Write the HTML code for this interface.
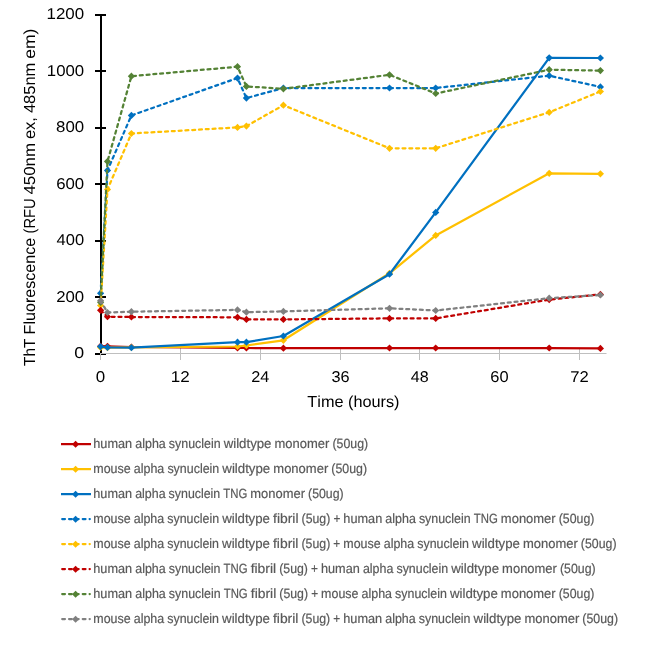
<!DOCTYPE html>
<html><head><meta charset="utf-8"><style>
html,body{margin:0;padding:0;background:#fff;width:650px;height:657px;overflow:hidden}
svg{display:block;will-change:transform}
text{font-family:"Liberation Sans",sans-serif;font-kerning:none;text-rendering:geometricPrecision}
</style></head><body>
<svg width="650" height="657" viewBox="0 0 650 657">
<rect width="650" height="657" fill="#fff"/>
<rect x="95" y="353" width="11" height="2" fill="#000"/>
<text transform="translate(74.31 358.00) scale(1.1398 1)" font-size="15.6" fill="#000">0</text>
<rect x="95" y="296" width="11" height="2" fill="#000"/>
<text transform="translate(56.16 302.00) scale(1.0757 1)" font-size="15.6" fill="#000">200</text>
<rect x="95" y="240" width="11" height="2" fill="#000"/>
<text transform="translate(56.62 245.00) scale(1.0574 1)" font-size="15.6" fill="#000">400</text>
<rect x="95" y="183" width="11" height="2" fill="#000"/>
<text transform="translate(56.15 189.00) scale(1.0761 1)" font-size="15.6" fill="#000">600</text>
<rect x="95" y="127" width="11" height="2" fill="#000"/>
<text transform="translate(56.07 132.00) scale(1.0792 1)" font-size="15.6" fill="#000">800</text>
<rect x="95" y="70" width="11" height="2" fill="#000"/>
<text transform="translate(46.82 76.00) scale(1.0758 1)" font-size="15.6" fill="#000">1000</text>
<rect x="95" y="14" width="11" height="2" fill="#000"/>
<text transform="translate(46.51 19.00) scale(1.0849 1)" font-size="15.6" fill="#000">1200</text>
<rect x="101" y="353" width="505.5" height="1" fill="#BFBFBF"/>
<rect x="100" y="348" width="1" height="12" fill="#BFBFBF"/>
<text transform="translate(95.79 381.60) scale(1.0862 1)" font-size="15.6" fill="#000">0</text>
<rect x="180" y="348" width="1" height="12" fill="#BFBFBF"/>
<text transform="translate(170.80 381.60) scale(1.0924 1)" font-size="15.6" fill="#000">12</text>
<rect x="260" y="348" width="1" height="12" fill="#BFBFBF"/>
<text transform="translate(251.28 381.60) scale(1.0428 1)" font-size="15.6" fill="#000">24</text>
<rect x="340" y="348" width="1" height="12" fill="#BFBFBF"/>
<text transform="translate(331.48 381.60) scale(1.0453 1)" font-size="15.6" fill="#000">36</text>
<rect x="419" y="348" width="1" height="12" fill="#BFBFBF"/>
<text transform="translate(410.73 381.60) scale(1.0297 1)" font-size="15.6" fill="#000">48</text>
<rect x="499" y="348" width="1" height="12" fill="#BFBFBF"/>
<text transform="translate(490.27 381.60) scale(1.0533 1)" font-size="15.6" fill="#000">60</text>
<rect x="579" y="348" width="1" height="12" fill="#BFBFBF"/>
<text transform="translate(570.25 381.60) scale(1.0655 1)" font-size="15.6" fill="#000">72</text>
<rect x="100" y="14" width="2" height="339" fill="#000"/>
<polyline points="100.60,346.20 107.50,346.30 131.40,347.00 237.50,347.90 246.40,348.00 283.40,348.20 389.50,348.00 435.70,348.00 549.20,348.00 600.40,348.40" fill="none" stroke="#C00000" stroke-width="2.25" stroke-linejoin="round"/>
<path d="M97.00 346.20L100.60 342.60L104.20 346.20L100.60 349.80Z" fill="#C00000"/>
<path d="M103.90 346.30L107.50 342.70L111.10 346.30L107.50 349.90Z" fill="#C00000"/>
<path d="M127.80 347.00L131.40 343.40L135.00 347.00L131.40 350.60Z" fill="#C00000"/>
<path d="M233.90 347.90L237.50 344.30L241.10 347.90L237.50 351.50Z" fill="#C00000"/>
<path d="M242.80 348.00L246.40 344.40L250.00 348.00L246.40 351.60Z" fill="#C00000"/>
<path d="M279.80 348.20L283.40 344.60L287.00 348.20L283.40 351.80Z" fill="#C00000"/>
<path d="M385.90 348.00L389.50 344.40L393.10 348.00L389.50 351.60Z" fill="#C00000"/>
<path d="M432.10 348.00L435.70 344.40L439.30 348.00L435.70 351.60Z" fill="#C00000"/>
<path d="M545.60 348.00L549.20 344.40L552.80 348.00L549.20 351.60Z" fill="#C00000"/>
<path d="M596.80 348.40L600.40 344.80L604.00 348.40L600.40 352.00Z" fill="#C00000"/>
<polyline points="100.60,347.40 107.50,347.70 131.40,347.40 237.50,346.50 246.40,345.50 283.40,340.30 389.50,273.30 435.70,235.40 549.20,173.30 600.40,173.80" fill="none" stroke="#FFC000" stroke-width="2.25" stroke-linejoin="round"/>
<path d="M97.00 347.40L100.60 343.80L104.20 347.40L100.60 351.00Z" fill="#FFC000"/>
<path d="M103.90 347.70L107.50 344.10L111.10 347.70L107.50 351.30Z" fill="#FFC000"/>
<path d="M127.80 347.40L131.40 343.80L135.00 347.40L131.40 351.00Z" fill="#FFC000"/>
<path d="M233.90 346.50L237.50 342.90L241.10 346.50L237.50 350.10Z" fill="#FFC000"/>
<path d="M242.80 345.50L246.40 341.90L250.00 345.50L246.40 349.10Z" fill="#FFC000"/>
<path d="M279.80 340.30L283.40 336.70L287.00 340.30L283.40 343.90Z" fill="#FFC000"/>
<path d="M385.90 273.30L389.50 269.70L393.10 273.30L389.50 276.90Z" fill="#FFC000"/>
<path d="M432.10 235.40L435.70 231.80L439.30 235.40L435.70 239.00Z" fill="#FFC000"/>
<path d="M545.60 173.30L549.20 169.70L552.80 173.30L549.20 176.90Z" fill="#FFC000"/>
<path d="M596.80 173.80L600.40 170.20L604.00 173.80L600.40 177.40Z" fill="#FFC000"/>
<polyline points="100.60,346.60 107.50,347.40 131.40,347.70 237.50,342.20 246.40,342.20 283.40,336.00 389.50,274.20 435.70,212.40 549.20,57.80 600.40,58.00" fill="none" stroke="#0070C0" stroke-width="2.25" stroke-linejoin="round"/>
<path d="M97.00 346.60L100.60 343.00L104.20 346.60L100.60 350.20Z" fill="#0070C0"/>
<path d="M103.90 347.40L107.50 343.80L111.10 347.40L107.50 351.00Z" fill="#0070C0"/>
<path d="M127.80 347.70L131.40 344.10L135.00 347.70L131.40 351.30Z" fill="#0070C0"/>
<path d="M233.90 342.20L237.50 338.60L241.10 342.20L237.50 345.80Z" fill="#0070C0"/>
<path d="M242.80 342.20L246.40 338.60L250.00 342.20L246.40 345.80Z" fill="#0070C0"/>
<path d="M279.80 336.00L283.40 332.40L287.00 336.00L283.40 339.60Z" fill="#0070C0"/>
<path d="M385.90 274.20L389.50 270.60L393.10 274.20L389.50 277.80Z" fill="#0070C0"/>
<path d="M432.10 212.40L435.70 208.80L439.30 212.40L435.70 216.00Z" fill="#0070C0"/>
<path d="M545.60 57.80L549.20 54.20L552.80 57.80L549.20 61.40Z" fill="#0070C0"/>
<path d="M596.80 58.00L600.40 54.40L604.00 58.00L600.40 61.60Z" fill="#0070C0"/>
<polyline points="100.60,293.30 107.50,170.40 131.40,115.40 237.50,78.10 246.40,98.10 283.40,88.00 389.50,88.00 435.70,88.00 549.20,75.70 600.40,86.90" fill="none" stroke="#0070C0" stroke-width="2.25" stroke-linejoin="round" stroke-dasharray="2.95 3.85" stroke-linecap="round"/>
<path d="M97.00 293.30L100.60 289.70L104.20 293.30L100.60 296.90Z" fill="#0070C0"/>
<path d="M103.90 170.40L107.50 166.80L111.10 170.40L107.50 174.00Z" fill="#0070C0"/>
<path d="M127.80 115.40L131.40 111.80L135.00 115.40L131.40 119.00Z" fill="#0070C0"/>
<path d="M233.90 78.10L237.50 74.50L241.10 78.10L237.50 81.70Z" fill="#0070C0"/>
<path d="M242.80 98.10L246.40 94.50L250.00 98.10L246.40 101.70Z" fill="#0070C0"/>
<path d="M279.80 88.00L283.40 84.40L287.00 88.00L283.40 91.60Z" fill="#0070C0"/>
<path d="M385.90 88.00L389.50 84.40L393.10 88.00L389.50 91.60Z" fill="#0070C0"/>
<path d="M432.10 88.00L435.70 84.40L439.30 88.00L435.70 91.60Z" fill="#0070C0"/>
<path d="M545.60 75.70L549.20 72.10L552.80 75.70L549.20 79.30Z" fill="#0070C0"/>
<path d="M596.80 86.90L600.40 83.30L604.00 86.90L600.40 90.50Z" fill="#0070C0"/>
<polyline points="100.60,305.50 107.50,189.50 131.40,133.50 237.50,127.40 246.40,126.10 283.40,105.20 389.50,148.30 435.70,148.30 549.20,112.30 600.40,91.50" fill="none" stroke="#FFC000" stroke-width="2.25" stroke-linejoin="round" stroke-dasharray="2.95 3.85" stroke-linecap="round"/>
<path d="M97.00 305.50L100.60 301.90L104.20 305.50L100.60 309.10Z" fill="#FFC000"/>
<path d="M103.90 189.50L107.50 185.90L111.10 189.50L107.50 193.10Z" fill="#FFC000"/>
<path d="M127.80 133.50L131.40 129.90L135.00 133.50L131.40 137.10Z" fill="#FFC000"/>
<path d="M233.90 127.40L237.50 123.80L241.10 127.40L237.50 131.00Z" fill="#FFC000"/>
<path d="M242.80 126.10L246.40 122.50L250.00 126.10L246.40 129.70Z" fill="#FFC000"/>
<path d="M279.80 105.20L283.40 101.60L287.00 105.20L283.40 108.80Z" fill="#FFC000"/>
<path d="M385.90 148.30L389.50 144.70L393.10 148.30L389.50 151.90Z" fill="#FFC000"/>
<path d="M432.10 148.30L435.70 144.70L439.30 148.30L435.70 151.90Z" fill="#FFC000"/>
<path d="M545.60 112.30L549.20 108.70L552.80 112.30L549.20 115.90Z" fill="#FFC000"/>
<path d="M596.80 91.50L600.40 87.90L604.00 91.50L600.40 95.10Z" fill="#FFC000"/>
<polyline points="100.60,310.30 107.50,316.70 131.40,317.00 237.50,317.30 246.40,319.40 283.40,319.40 389.50,318.40 435.70,318.40 549.20,299.60 600.40,294.40" fill="none" stroke="#C00000" stroke-width="2.25" stroke-linejoin="round" stroke-dasharray="2.95 3.85" stroke-linecap="round"/>
<path d="M97.00 310.30L100.60 306.70L104.20 310.30L100.60 313.90Z" fill="#C00000"/>
<path d="M103.90 316.70L107.50 313.10L111.10 316.70L107.50 320.30Z" fill="#C00000"/>
<path d="M127.80 317.00L131.40 313.40L135.00 317.00L131.40 320.60Z" fill="#C00000"/>
<path d="M233.90 317.30L237.50 313.70L241.10 317.30L237.50 320.90Z" fill="#C00000"/>
<path d="M242.80 319.40L246.40 315.80L250.00 319.40L246.40 323.00Z" fill="#C00000"/>
<path d="M279.80 319.40L283.40 315.80L287.00 319.40L283.40 323.00Z" fill="#C00000"/>
<path d="M385.90 318.40L389.50 314.80L393.10 318.40L389.50 322.00Z" fill="#C00000"/>
<path d="M432.10 318.40L435.70 314.80L439.30 318.40L435.70 322.00Z" fill="#C00000"/>
<path d="M545.60 299.60L549.20 296.00L552.80 299.60L549.20 303.20Z" fill="#C00000"/>
<path d="M596.80 294.40L600.40 290.80L604.00 294.40L600.40 298.00Z" fill="#C00000"/>
<polyline points="100.60,302.30 107.50,161.40 131.40,76.20 237.50,66.70 246.40,86.40 283.40,88.80 389.50,74.80 435.70,93.50 549.20,69.70 600.40,70.60" fill="none" stroke="#548235" stroke-width="2.25" stroke-linejoin="round" stroke-dasharray="2.95 3.85" stroke-linecap="round"/>
<path d="M97.00 302.30L100.60 298.70L104.20 302.30L100.60 305.90Z" fill="#548235"/>
<path d="M103.90 161.40L107.50 157.80L111.10 161.40L107.50 165.00Z" fill="#548235"/>
<path d="M127.80 76.20L131.40 72.60L135.00 76.20L131.40 79.80Z" fill="#548235"/>
<path d="M233.90 66.70L237.50 63.10L241.10 66.70L237.50 70.30Z" fill="#548235"/>
<path d="M242.80 86.40L246.40 82.80L250.00 86.40L246.40 90.00Z" fill="#548235"/>
<path d="M279.80 88.80L283.40 85.20L287.00 88.80L283.40 92.40Z" fill="#548235"/>
<path d="M385.90 74.80L389.50 71.20L393.10 74.80L389.50 78.40Z" fill="#548235"/>
<path d="M432.10 93.50L435.70 89.90L439.30 93.50L435.70 97.10Z" fill="#548235"/>
<path d="M545.60 69.70L549.20 66.10L552.80 69.70L549.20 73.30Z" fill="#548235"/>
<path d="M596.80 70.60L600.40 67.00L604.00 70.60L600.40 74.20Z" fill="#548235"/>
<polyline points="100.60,300.70 107.50,312.50 131.40,311.70 237.50,309.90 246.40,312.20 283.40,311.40 389.50,308.30 435.70,310.50 549.20,298.20 600.40,295.00" fill="none" stroke="#808080" stroke-width="2.25" stroke-linejoin="round" stroke-dasharray="2.95 3.85" stroke-linecap="round"/>
<path d="M97.00 300.70L100.60 297.10L104.20 300.70L100.60 304.30Z" fill="#808080"/>
<path d="M103.90 312.50L107.50 308.90L111.10 312.50L107.50 316.10Z" fill="#808080"/>
<path d="M127.80 311.70L131.40 308.10L135.00 311.70L131.40 315.30Z" fill="#808080"/>
<path d="M233.90 309.90L237.50 306.30L241.10 309.90L237.50 313.50Z" fill="#808080"/>
<path d="M242.80 312.20L246.40 308.60L250.00 312.20L246.40 315.80Z" fill="#808080"/>
<path d="M279.80 311.40L283.40 307.80L287.00 311.40L283.40 315.00Z" fill="#808080"/>
<path d="M385.90 308.30L389.50 304.70L393.10 308.30L389.50 311.90Z" fill="#808080"/>
<path d="M432.10 310.50L435.70 306.90L439.30 310.50L435.70 314.10Z" fill="#808080"/>
<path d="M545.60 298.20L549.20 294.60L552.80 298.20L549.20 301.80Z" fill="#808080"/>
<path d="M596.80 295.00L600.40 291.40L604.00 295.00L600.40 298.60Z" fill="#808080"/>
<text transform="translate(34.70 366.05) rotate(-90) scale(0.9669 1)" font-size="16" fill="#000">ThT</text>
<text transform="translate(34.70 334.42) rotate(-90) scale(1.0061 1)" font-size="16" fill="#000">Fluorescence</text>
<text transform="translate(34.70 233.41) rotate(-90) scale(0.9198 1)" font-size="16" fill="#000">(RFU</text>
<text transform="translate(34.70 194.59) rotate(-90) scale(1.0547 1)" font-size="16" fill="#000">450nm</text>
<text transform="translate(34.70 139.10) rotate(-90) scale(1.0298 1)" font-size="16" fill="#000">ex,</text>
<text transform="translate(34.70 113.08) rotate(-90) scale(1.0295 1)" font-size="16" fill="#000">485nm</text>
<text transform="translate(34.70 58.84) rotate(-90) scale(1.0934 1)" font-size="16" fill="#000">em)</text>
<text transform="translate(307.33 406.90) scale(1.0165 1)" font-size="16" fill="#000">Time (hours)</text>
<line x1="61" y1="444.1" x2="91" y2="444.1" stroke="#C00000" stroke-width="2.25"/>
<path d="M72.05 444.30L75.60 440.75L79.15 444.30L75.60 447.85Z" fill="#C00000"/>
<text transform="translate(93.30 447.70) scale(0.9561 1)" font-size="13.3" fill="#595959" stroke="#595959" stroke-width="0.2">human</text>
<text transform="translate(135.26 447.70) scale(0.9370 1)" font-size="13.3" fill="#595959" stroke="#595959" stroke-width="0.2">alpha</text>
<text transform="translate(168.83 447.70) scale(0.9335 1)" font-size="13.3" fill="#595959" stroke="#595959" stroke-width="0.2">synuclein</text>
<text transform="translate(223.67 447.70) scale(0.9951 1)" font-size="13.3" fill="#595959" stroke="#595959" stroke-width="0.2">wildtype</text>
<text transform="translate(274.56 447.70) scale(0.9758 1)" font-size="13.3" fill="#595959" stroke="#595959" stroke-width="0.2">monomer</text>
<text transform="translate(332.46 447.70) scale(0.9270 1)" font-size="13.3" fill="#595959" stroke="#595959" stroke-width="0.2">(50ug)</text>
<line x1="61" y1="469.1" x2="91" y2="469.1" stroke="#FFC000" stroke-width="2.25"/>
<path d="M72.05 469.30L75.60 465.75L79.15 469.30L75.60 472.85Z" fill="#FFC000"/>
<text transform="translate(93.30 472.70) scale(0.9367 1)" font-size="13.3" fill="#595959" stroke="#595959" stroke-width="0.2">mouse</text>
<text transform="translate(133.78 472.70) scale(0.9385 1)" font-size="13.3" fill="#595959" stroke="#595959" stroke-width="0.2">alpha</text>
<text transform="translate(167.40 472.70) scale(0.9350 1)" font-size="13.3" fill="#595959" stroke="#595959" stroke-width="0.2">synuclein</text>
<text transform="translate(222.33 472.70) scale(0.9967 1)" font-size="13.3" fill="#595959" stroke="#595959" stroke-width="0.2">wildtype</text>
<text transform="translate(273.31 472.70) scale(0.9775 1)" font-size="13.3" fill="#595959" stroke="#595959" stroke-width="0.2">monomer</text>
<text transform="translate(331.30 472.70) scale(0.9286 1)" font-size="13.3" fill="#595959" stroke="#595959" stroke-width="0.2">(50ug)</text>
<line x1="61" y1="494.1" x2="91" y2="494.1" stroke="#0070C0" stroke-width="2.25"/>
<path d="M72.05 494.30L75.60 490.75L79.15 494.30L75.60 497.85Z" fill="#0070C0"/>
<text transform="translate(93.30 497.70) scale(0.9534 1)" font-size="13.3" fill="#595959" stroke="#595959" stroke-width="0.2">human</text>
<text transform="translate(135.14 497.70) scale(0.9343 1)" font-size="13.3" fill="#595959" stroke="#595959" stroke-width="0.2">alpha</text>
<text transform="translate(168.62 497.70) scale(0.9308 1)" font-size="13.3" fill="#595959" stroke="#595959" stroke-width="0.2">synuclein</text>
<text transform="translate(223.30 497.70) scale(0.8534 1)" font-size="13.3" fill="#595959" stroke="#595959" stroke-width="0.2">TNG</text>
<text transform="translate(250.33 497.70) scale(0.9731 1)" font-size="13.3" fill="#595959" stroke="#595959" stroke-width="0.2">monomer</text>
<text transform="translate(308.06 497.70) scale(0.9244 1)" font-size="13.3" fill="#595959" stroke="#595959" stroke-width="0.2">(50ug)</text>
<line x1="62.2" y1="519.1" x2="89.8" y2="519.1" stroke="#0070C0" stroke-width="2.25" stroke-dasharray="2.75 4.1" stroke-linecap="round"/>
<path d="M72.05 519.30L75.60 515.75L79.15 519.30L75.60 522.85Z" fill="#0070C0"/>
<text transform="translate(93.30 522.70) scale(0.9352 1)" font-size="13.3" fill="#595959" stroke="#595959" stroke-width="0.2">mouse</text>
<text transform="translate(133.71 522.70) scale(0.9371 1)" font-size="13.3" fill="#595959" stroke="#595959" stroke-width="0.2">alpha</text>
<text transform="translate(167.29 522.70) scale(0.9336 1)" font-size="13.3" fill="#595959" stroke="#595959" stroke-width="0.2">synuclein</text>
<text transform="translate(222.13 522.70) scale(0.9952 1)" font-size="13.3" fill="#595959" stroke="#595959" stroke-width="0.2">wildtype</text>
<text transform="translate(273.03 522.70) scale(1.0435 1)" font-size="13.3" fill="#595959" stroke="#595959" stroke-width="0.2">fibril</text>
<text transform="translate(301.56 522.70) scale(0.9256 1)" font-size="13.3" fill="#595959" stroke="#595959" stroke-width="0.2">(5ug)</text>
<text transform="translate(333.38 522.70) scale(0.8891 1)" font-size="13.3" fill="#595959" stroke="#595959" stroke-width="0.2">+</text>
<text transform="translate(343.36 522.70) scale(0.9562 1)" font-size="13.3" fill="#595959" stroke="#595959" stroke-width="0.2">human</text>
<text transform="translate(385.33 522.70) scale(0.9371 1)" font-size="13.3" fill="#595959" stroke="#595959" stroke-width="0.2">alpha</text>
<text transform="translate(418.90 522.70) scale(0.9336 1)" font-size="13.3" fill="#595959" stroke="#595959" stroke-width="0.2">synuclein</text>
<text transform="translate(473.74 522.70) scale(0.8559 1)" font-size="13.3" fill="#595959" stroke="#595959" stroke-width="0.2">TNG</text>
<text transform="translate(500.85 522.70) scale(0.9759 1)" font-size="13.3" fill="#595959" stroke="#595959" stroke-width="0.2">monomer</text>
<text transform="translate(558.76 522.70) scale(0.9271 1)" font-size="13.3" fill="#595959" stroke="#595959" stroke-width="0.2">(50ug)</text>
<line x1="62.2" y1="544.1" x2="89.8" y2="544.1" stroke="#FFC000" stroke-width="2.25" stroke-dasharray="2.75 4.1" stroke-linecap="round"/>
<path d="M72.05 544.30L75.60 540.75L79.15 544.30L75.60 547.85Z" fill="#FFC000"/>
<text transform="translate(93.30 547.70) scale(0.9350 1)" font-size="13.3" fill="#595959" stroke="#595959" stroke-width="0.2">mouse</text>
<text transform="translate(133.70 547.70) scale(0.9368 1)" font-size="13.3" fill="#595959" stroke="#595959" stroke-width="0.2">alpha</text>
<text transform="translate(167.27 547.70) scale(0.9333 1)" font-size="13.3" fill="#595959" stroke="#595959" stroke-width="0.2">synuclein</text>
<text transform="translate(222.10 547.70) scale(0.9949 1)" font-size="13.3" fill="#595959" stroke="#595959" stroke-width="0.2">wildtype</text>
<text transform="translate(272.98 547.70) scale(1.0432 1)" font-size="13.3" fill="#595959" stroke="#595959" stroke-width="0.2">fibril</text>
<text transform="translate(301.50 547.70) scale(0.9254 1)" font-size="13.3" fill="#595959" stroke="#595959" stroke-width="0.2">(5ug)</text>
<text transform="translate(333.31 547.70) scale(0.8888 1)" font-size="13.3" fill="#595959" stroke="#595959" stroke-width="0.2">+</text>
<text transform="translate(343.29 547.70) scale(0.9350 1)" font-size="13.3" fill="#595959" stroke="#595959" stroke-width="0.2">mouse</text>
<text transform="translate(383.70 547.70) scale(0.9368 1)" font-size="13.3" fill="#595959" stroke="#595959" stroke-width="0.2">alpha</text>
<text transform="translate(417.26 547.70) scale(0.9333 1)" font-size="13.3" fill="#595959" stroke="#595959" stroke-width="0.2">synuclein</text>
<text transform="translate(472.09 547.70) scale(0.9949 1)" font-size="13.3" fill="#595959" stroke="#595959" stroke-width="0.2">wildtype</text>
<text transform="translate(522.98 547.70) scale(0.9757 1)" font-size="13.3" fill="#595959" stroke="#595959" stroke-width="0.2">monomer</text>
<text transform="translate(580.87 547.70) scale(0.9269 1)" font-size="13.3" fill="#595959" stroke="#595959" stroke-width="0.2">(50ug)</text>
<line x1="62.2" y1="569.1" x2="89.8" y2="569.1" stroke="#C00000" stroke-width="2.25" stroke-dasharray="2.75 4.1" stroke-linecap="round"/>
<path d="M72.05 569.30L75.60 565.75L79.15 569.30L75.60 572.85Z" fill="#C00000"/>
<text transform="translate(93.30 572.70) scale(0.9555 1)" font-size="13.3" fill="#595959" stroke="#595959" stroke-width="0.2">human</text>
<text transform="translate(135.23 572.70) scale(0.9364 1)" font-size="13.3" fill="#595959" stroke="#595959" stroke-width="0.2">alpha</text>
<text transform="translate(168.79 572.70) scale(0.9329 1)" font-size="13.3" fill="#595959" stroke="#595959" stroke-width="0.2">synuclein</text>
<text transform="translate(223.59 572.70) scale(0.8553 1)" font-size="13.3" fill="#595959" stroke="#595959" stroke-width="0.2">TNG</text>
<text transform="translate(250.68 572.70) scale(1.0428 1)" font-size="13.3" fill="#595959" stroke="#595959" stroke-width="0.2">fibril</text>
<text transform="translate(279.19 572.70) scale(0.9250 1)" font-size="13.3" fill="#595959" stroke="#595959" stroke-width="0.2">(5ug)</text>
<text transform="translate(310.98 572.70) scale(0.8884 1)" font-size="13.3" fill="#595959" stroke="#595959" stroke-width="0.2">+</text>
<text transform="translate(320.96 572.70) scale(0.9555 1)" font-size="13.3" fill="#595959" stroke="#595959" stroke-width="0.2">human</text>
<text transform="translate(362.90 572.70) scale(0.9364 1)" font-size="13.3" fill="#595959" stroke="#595959" stroke-width="0.2">alpha</text>
<text transform="translate(396.45 572.70) scale(0.9329 1)" font-size="13.3" fill="#595959" stroke="#595959" stroke-width="0.2">synuclein</text>
<text transform="translate(451.25 572.70) scale(0.9945 1)" font-size="13.3" fill="#595959" stroke="#595959" stroke-width="0.2">wildtype</text>
<text transform="translate(502.12 572.70) scale(0.9753 1)" font-size="13.3" fill="#595959" stroke="#595959" stroke-width="0.2">monomer</text>
<text transform="translate(559.98 572.70) scale(0.9265 1)" font-size="13.3" fill="#595959" stroke="#595959" stroke-width="0.2">(50ug)</text>
<line x1="62.2" y1="594.1" x2="89.8" y2="594.1" stroke="#548235" stroke-width="2.25" stroke-dasharray="2.75 4.1" stroke-linecap="round"/>
<path d="M72.05 594.30L75.60 590.75L79.15 594.30L75.60 597.85Z" fill="#548235"/>
<text transform="translate(93.30 597.70) scale(0.9562 1)" font-size="13.3" fill="#595959" stroke="#595959" stroke-width="0.2">human</text>
<text transform="translate(135.26 597.70) scale(0.9371 1)" font-size="13.3" fill="#595959" stroke="#595959" stroke-width="0.2">alpha</text>
<text transform="translate(168.84 597.70) scale(0.9336 1)" font-size="13.3" fill="#595959" stroke="#595959" stroke-width="0.2">synuclein</text>
<text transform="translate(223.68 597.70) scale(0.8559 1)" font-size="13.3" fill="#595959" stroke="#595959" stroke-width="0.2">TNG</text>
<text transform="translate(250.79 597.70) scale(1.0435 1)" font-size="13.3" fill="#595959" stroke="#595959" stroke-width="0.2">fibril</text>
<text transform="translate(279.32 597.70) scale(0.9256 1)" font-size="13.3" fill="#595959" stroke="#595959" stroke-width="0.2">(5ug)</text>
<text transform="translate(311.14 597.70) scale(0.8891 1)" font-size="13.3" fill="#595959" stroke="#595959" stroke-width="0.2">+</text>
<text transform="translate(321.12 597.70) scale(0.9352 1)" font-size="13.3" fill="#595959" stroke="#595959" stroke-width="0.2">mouse</text>
<text transform="translate(361.54 597.70) scale(0.9371 1)" font-size="13.3" fill="#595959" stroke="#595959" stroke-width="0.2">alpha</text>
<text transform="translate(395.11 597.70) scale(0.9336 1)" font-size="13.3" fill="#595959" stroke="#595959" stroke-width="0.2">synuclein</text>
<text transform="translate(449.95 597.70) scale(0.9952 1)" font-size="13.3" fill="#595959" stroke="#595959" stroke-width="0.2">wildtype</text>
<text transform="translate(500.85 597.70) scale(0.9759 1)" font-size="13.3" fill="#595959" stroke="#595959" stroke-width="0.2">monomer</text>
<text transform="translate(558.76 597.70) scale(0.9271 1)" font-size="13.3" fill="#595959" stroke="#595959" stroke-width="0.2">(50ug)</text>
<line x1="62.2" y1="619.1" x2="89.8" y2="619.1" stroke="#808080" stroke-width="2.25" stroke-dasharray="2.75 4.1" stroke-linecap="round"/>
<path d="M72.05 619.30L75.60 615.75L79.15 619.30L75.60 622.85Z" fill="#808080"/>
<text transform="translate(93.30 622.70) scale(0.9349 1)" font-size="13.3" fill="#595959" stroke="#595959" stroke-width="0.2">mouse</text>
<text transform="translate(133.70 622.70) scale(0.9368 1)" font-size="13.3" fill="#595959" stroke="#595959" stroke-width="0.2">alpha</text>
<text transform="translate(167.26 622.70) scale(0.9332 1)" font-size="13.3" fill="#595959" stroke="#595959" stroke-width="0.2">synuclein</text>
<text transform="translate(222.09 622.70) scale(0.9948 1)" font-size="13.3" fill="#595959" stroke="#595959" stroke-width="0.2">wildtype</text>
<text transform="translate(272.97 622.70) scale(1.0431 1)" font-size="13.3" fill="#595959" stroke="#595959" stroke-width="0.2">fibril</text>
<text transform="translate(301.48 622.70) scale(0.9253 1)" font-size="13.3" fill="#595959" stroke="#595959" stroke-width="0.2">(5ug)</text>
<text transform="translate(333.29 622.70) scale(0.8887 1)" font-size="13.3" fill="#595959" stroke="#595959" stroke-width="0.2">+</text>
<text transform="translate(343.27 622.70) scale(0.9558 1)" font-size="13.3" fill="#595959" stroke="#595959" stroke-width="0.2">human</text>
<text transform="translate(385.22 622.70) scale(0.9368 1)" font-size="13.3" fill="#595959" stroke="#595959" stroke-width="0.2">alpha</text>
<text transform="translate(418.78 622.70) scale(0.9332 1)" font-size="13.3" fill="#595959" stroke="#595959" stroke-width="0.2">synuclein</text>
<text transform="translate(473.61 622.70) scale(0.9948 1)" font-size="13.3" fill="#595959" stroke="#595959" stroke-width="0.2">wildtype</text>
<text transform="translate(524.49 622.70) scale(0.9756 1)" font-size="13.3" fill="#595959" stroke="#595959" stroke-width="0.2">monomer</text>
<text transform="translate(582.37 622.70) scale(0.9268 1)" font-size="13.3" fill="#595959" stroke="#595959" stroke-width="0.2">(50ug)</text>
</svg></body></html>
